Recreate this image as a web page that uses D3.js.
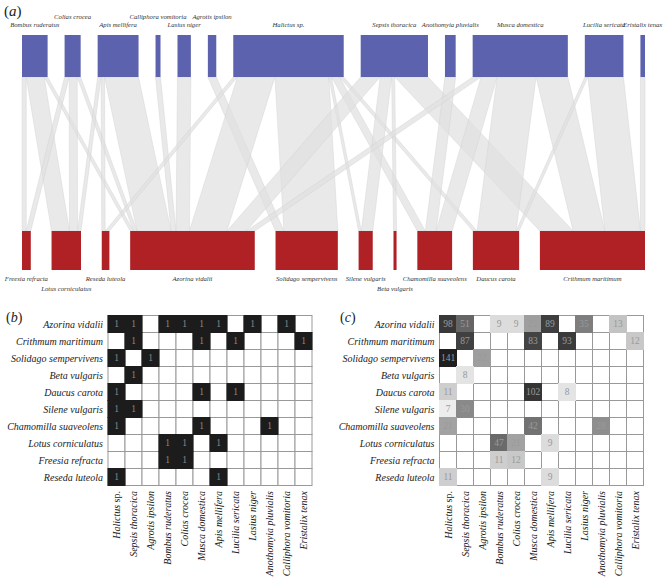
<!DOCTYPE html>
<html><head><meta charset="utf-8">
<script src="https://cdnjs.cloudflare.com/ajax/libs/d3/7.8.5/d3.min.js"></script>
<style>
html,body{margin:0;padding:0;background:#fff;}
</style></head>
<body><svg id="chart" width="667" height="577"></svg>
<script>
// ---- data ----
const plants = ["Azorina vidalii","Crithmum maritimum","Solidago sempervivens","Beta vulgaris","Daucus carota","Silene vulgaris","Chamomilla suaveolens","Lotus corniculatus","Freesia refracta","Reseda luteola"];
const pollinators = ["Halictus sp.","Sepsis thoracica","Agrotis ipsilon","Bombus ruderatus","Colias crocea","Musca domestica","Apis mellifera","Lucilia sericata","Lasius niger","Anothomyia pluvialis","Calliphora vomitoria","Eristalix tenax"];
// visits[plant][pollinator]
const azorina    = [98, 51, 0, 9, 9, 22, 89, 0, 35, 0, 13, 0];
const crithmum   = [0, 87, 0, 0, 0, 83, 0, 93, 0, 0, 0, 12];
const solidago   = [141, 0, 22, 0, 0, 0, 0, 0, 0, 0, 0, 0];
const beta       = [0, 8, 0, 0, 0, 0, 0, 0, 0, 0, 0, 0];
const daucus     = [11, 0, 0, 0, 0, 102, 0, 8, 0, 0, 0, 0];
const silene     = [7, 30, 0, 0, 0, 0, 0, 0, 0, 0, 0, 0];
const chamomilla = [21, 0, 0, 0, 0, 42, 0, 0, 0, 28, 0, 0];
const lotus      = [0, 0, 0, 47, 21, 0, 9, 0, 0, 0, 0, 0];
const freesia    = [0, 0, 0, 11, 12, 0, 0, 0, 0, 0, 0, 0];
const reseda     = [11, 0, 0, 0, 0, 0, 9, 0, 0, 0, 0, 0];
const visits = [azorina, crithmum, solidago, beta, daucus, silene, chamomilla, lotus, freesia, reseda];
// order of nodes in the bipartite web (a)
const pollinatorOrderA = ["Bombus ruderatus","Colias crocea","Apis mellifera","Calliphora vomitoria","Lasius niger","Agrotis ipsilon","Halictus sp.","Sepsis thoracica","Anothomyia pluvialis","Musca domestica","Lucilia sericata","Eristalix tenax"];
const plantOrderA = ["Freesia refracta","Lotus corniculatus","Reseda luteola","Azorina vidalii","Solidago sempervivens","Silene vulgaris","Beta vulgaris","Chamomilla suaveolens","Daucus carota","Crithmum maritimum"];

// ---- drawing ----
const FONT = '"Liberation Serif"';
const svg = d3.select("#chart");
const val = (p, q) => visits[plants.indexOf(p)][pollinators.indexOf(q)];
const total = d3.sum(visits, r => d3.sum(r));

// Panel (a)
const A = {x0: 22, x1: 645, top0: 35, top1: 77, bot0: 231, bot1: 270};
const span = A.x1 - A.x0;
const wScale = d3.scaleLinear().domain([0, total]).range([0, span * 0.7]);

function layout(names, totals) {
  const gap = (span - wScale(total)) / (names.length - 1);
  let x = A.x0;
  return names.map((n, i) => { const w = wScale(totals[i]); const o = {name: n, x: x, w: w}; x += w + gap; return o; });
}
const topNodes = layout(pollinatorOrderA, pollinatorOrderA.map(q => d3.sum(plants, p => val(p, q))));
const botNodes = layout(plantOrderA, plantOrderA.map(p => d3.sum(pollinators, q => val(p, q))));

// link segments
const topCursor = {}, botCursor = {};
topNodes.forEach(n => topCursor[n.name] = n.x);
botNodes.forEach(n => botCursor[n.name] = n.x);
const topSeg = {}, botSeg = {};
topNodes.forEach(t => botNodes.forEach(b => {
  const v = val(b.name, t.name); if (v > 0) { const w = wScale(v); topSeg[t.name + "|" + b.name] = [topCursor[t.name], topCursor[t.name] + w]; topCursor[t.name] += w; }
}));
botNodes.forEach(b => topNodes.forEach(t => {
  const v = val(b.name, t.name); if (v > 0) { const w = wScale(v); botSeg[t.name + "|" + b.name] = [botCursor[b.name], botCursor[b.name] + w]; botCursor[b.name] += w; }
}));
const links = Object.keys(topSeg).map(k => ({t: topSeg[k], b: botSeg[k]}));
svg.append("g").selectAll("path").data(links).join("path")
  .attr("d", d => `M${d.t[0]},${A.top1}L${d.t[1]},${A.top1}L${d.b[1]},${A.bot0}L${d.b[0]},${A.bot0}Z`)
  .attr("fill", "#e0e0e0").attr("fill-opacity", 0.7)
  .attr("stroke", "#cfcfcf").attr("stroke-width", 0.4);

svg.append("g").selectAll("rect").data(topNodes).join("rect")
  .attr("x", d => d.x).attr("y", A.top0).attr("width", d => d.w).attr("height", A.top1 - A.top0)
  .attr("fill", "#5c62ae");
svg.append("g").selectAll("rect").data(botNodes).join("rect")
  .attr("x", d => d.x).attr("y", A.bot0).attr("width", d => d.w).attr("height", A.bot1 - A.bot0)
  .attr("fill", "#b02126");

function stagger(nodes, ys) {
  const g = svg.append("g");
  const lastEnd = [-Infinity, -Infinity];
  nodes.forEach(n => {
    const t = g.append("text").attr("x", n.x + n.w / 2).attr("text-anchor", "middle")
      .style("font-family", FONT).style("font-size", "6.7px").style("font-style", "italic").attr("fill", "#333").text(n.name);
    const len = t.node().getComputedTextLength();
    const s = n.x + n.w / 2 - len / 2;
    let lvl = s < lastEnd[0] - 3 ? 1 : 0;
    lastEnd[lvl] = s + len;
    t.attr("y", ys[lvl]);
  });
}
stagger(topNodes, [27, 18.5]);
stagger(botNodes, [281, 290.5]);

svg.append("text").attr("x", 4).attr("y", 16).style("font-family", FONT).style("font-size", "15px").attr("fill", "#222")
  .html('(<tspan style="font-style:italic">a</tspan>)');

// Panels (b) and (c)
function matrix(left, tag, tagX, fillFn, textFn, textFill) {
  const x = d3.scaleBand().domain(pollinators).range([left, left + 204]);
  const y = d3.scaleBand().domain(plants).range([315.5, 485.5]);
  const g = svg.append("g");
  const cells = [];
  plants.forEach((p, i) => pollinators.forEach((q, j) => cells.push({p, q, v: visits[i][j]})));
  g.selectAll("rect.bg").data(cells).join("rect").attr("class", "bg")
    .attr("x", d => x(d.q)).attr("y", d => y(d.p)).attr("width", x.bandwidth()).attr("height", y.bandwidth())
    .attr("fill", "#fff").attr("stroke", "#999").attr("stroke-width", 1);
  const nz = cells.filter(d => d.v > 0);
  g.selectAll("rect.fg").data(nz).join("rect").attr("class", "fg")
    .attr("x", d => x(d.q) - 0.5).attr("y", d => y(d.p) - 0.5).attr("width", x.bandwidth() + 1).attr("height", y.bandwidth() + 1)
    .attr("fill", d => fillFn(d.v));
  g.selectAll("text.v").data(nz).join("text").attr("class", "v")
    .attr("x", d => x(d.q) + x.bandwidth() / 2).attr("y", d => y(d.p) + y.bandwidth() / 2)
    .attr("dy", "0.35em").attr("text-anchor", "middle").style("font-family", FONT).style("font-size", "9.5px").attr("fill", textFill)
    .text(d => textFn(d.v));
  g.selectAll("text.row").data(plants).join("text").attr("class", "row")
    .attr("x", left - 5).attr("y", d => y(d) + y.bandwidth() / 2).attr("dy", "0.35em")
    .attr("text-anchor", "end").style("font-family", FONT).style("font-size", "10px").style("font-style", "italic").attr("fill", "#222").text(d => d);
  g.selectAll("text.col").data(pollinators).join("text").attr("class", "col")
    .attr("transform", d => `translate(${x(d) + x.bandwidth() / 2},${491}) rotate(-90)`)
    .attr("dy", "0.35em").attr("text-anchor", "end").style("font-family", FONT).style("font-size", "10px").attr("fill", "#222")
    .each(function(d) {
      const t = d3.select(this);
      if (d.endsWith(" sp.")) {
        t.append("tspan").style("font-style", "italic").text(d.replace(" sp.", ""));
        t.append("tspan").text(" sp.");
      } else t.style("font-style", "italic").text(d);
    });
  svg.append("text").attr("x", tagX).attr("y", 322).style("font-family", FONT).style("font-size", "14px").attr("fill", "#222")
    .html(`(<tspan style="font-style:italic">${tag}</tspan>)`);
}
matrix(108, "b", 6, () => "#1c1c1c", () => "1", "#8a8a8a");
const grey = d3.scaleLog().domain([7, 141]).range([0.93, 0.12]).clamp(true);
matrix(439.5, "c", 340, v => { const l = Math.round(grey(v) * 255); return `rgb(${l},${l},${l})`; }, v => v, "#9a9a9a");
</script></body></html>
